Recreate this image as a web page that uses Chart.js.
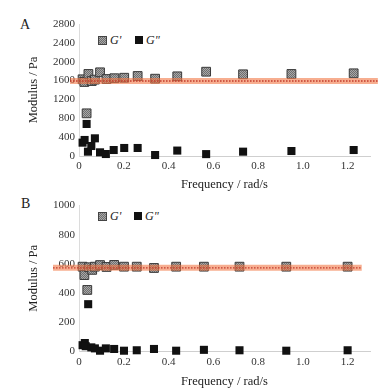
<!DOCTYPE html>
<html>
<head>
<meta charset="utf-8">
<script src="https://cdn.jsdelivr.net/npm/chart.js@4.4.0/dist/chart.umd.min.js"></script>
<style>
body{margin:0;background:#fff;font-family:"Liberation Serif",serif;color:#222;}
#wrap{position:relative;width:385px;height:392px;overflow:hidden;}
.box{position:absolute;left:0;width:385px;}
.panel{position:absolute;font-size:14px;}
.leg{position:absolute;font-size:12px;font-style:italic;display:flex;align-items:center;height:12px;color:#222;}
.sq{display:inline-block;width:7px;height:7px;margin-right:3px;}
.sq1{border:1px solid #444;background:repeating-conic-gradient(#6e6e6e 0 25%,#a8a8a8 0 50%) 0 0/2px 2px;}
.sq2{width:8px;height:8px;background:#111;}
</style>
</head>
<body>
<div id="wrap">
  <div class="panel" style="left:20px;top:17px;">A</div>
  <div class="leg" style="left:98px;top:34px;"><span class="sq sq1"></span>G'</div>
  <div class="leg" style="left:135px;top:34px;"><span class="sq sq2"></span>G"</div>
  <div class="box" style="top:0;height:195px;"><canvas id="chartA" width="385" height="195"></canvas></div>

  <div class="panel" style="left:21px;top:196px;">B</div>
  <div class="leg" style="left:98px;top:210px;"><span class="sq sq1"></span>G'</div>
  <div class="leg" style="left:134px;top:210px;"><span class="sq sq2"></span>G"</div>
  <div class="box" style="top:195px;height:197px;"><canvas id="chartB" width="385" height="197"></canvas></div>
</div>
<script>
// panel A (frequency in rad/s, modulus in Pa)
const freqA = [0.016, 0.024, 0.034, 0.042, 0.057, 0.071, 0.094, 0.123, 0.158, 0.202, 0.262, 0.34, 0.439, 0.568, 0.733, 0.949, 1.227];
const gPrimeA = [1627, 1570, 905, 1740, 1590, 1620, 1775, 1633, 1650, 1660, 1697, 1640, 1690, 1788, 1733, 1740, 1754];
const freqA2 = [0.016, 0.025, 0.034, 0.04, 0.055, 0.071, 0.094, 0.12, 0.155, 0.202, 0.262, 0.34, 0.439, 0.568, 0.733, 0.949, 1.227];
const gDoubleA = [283, 340, 680, 92, 212, 375, 78, 42, 127, 170, 170, 21, 115, 40, 92, 106, 127];
const plateauA = 1590;

// panel B
const freqB = [0.016, 0.024, 0.037, 0.045, 0.059, 0.071, 0.094, 0.123, 0.157, 0.201, 0.258, 0.335, 0.434, 0.558, 0.717, 0.926, 1.2];
const gPrimeB = [580, 522, 420, 576, 558, 580, 591, 578, 592, 580, 580, 571, 580, 580, 580, 580, 580];
const freqB2 = [0.016, 0.026, 0.03, 0.041, 0.055, 0.071, 0.094, 0.12, 0.157, 0.201, 0.258, 0.335, 0.434, 0.558, 0.717, 0.926, 1.2];
const gDoubleB = [40, 55, 33, 322, 25, 18, 2, 18, 14, 2, 5, 14, 2, 8, 5, 2, 5];
const plateauB = 572;

const xTicks = [0, 0.2, 0.4, 0.6, 0.8, 1.0, 1.2];

function makePattern() {
  const c = document.createElement("canvas");
  c.width = 2; c.height = 2;
  const x = c.getContext("2d");
  x.fillStyle = "#a8a8a8"; x.fillRect(0, 0, 2, 2);
  x.fillStyle = "#6e6e6e"; x.fillRect(0, 0, 1, 1); x.fillRect(1, 1, 1, 1);
  return x.createPattern(c, "repeat");
}

function pts(xs, ys) {
  return xs.map((v, i) => ({ x: v, y: ys[i] }));
}

function makeChart(id, o) {
  const font = { family: "Liberation Serif", size: 11 };
  return new Chart(document.getElementById(id), {
    type: "scatter",
    data: {
      datasets: [
        {
          type: "line", data: [{ x: o.lineFrom, y: o.plateau }, { x: o.lineTo, y: o.plateau }],
          borderColor: "rgba(242,120,70,0.6)", borderWidth: 6, pointRadius: 0, clip: false, order: 1
        },
        {
          type: "line", data: [{ x: o.lineFrom, y: o.plateau }, { x: o.lineTo, y: o.plateau }],
          borderColor: "#c0392b", borderWidth: 1.4, borderDash: [1.5, 1.5], pointRadius: 0, clip: false, order: 0
        },
        {
          label: "G'", data: pts(o.f1, o.g1), pointStyle: "rect", pointRadius: 6.2,
          backgroundColor: makePattern(), borderColor: "#3a3a3a", borderWidth: 1, clip: false, order: 3
        },
        {
          label: 'G"', data: pts(o.f2, o.g2), pointStyle: "rect", pointRadius: 5.7,
          backgroundColor: "#111", borderColor: "#111", borderWidth: 0, clip: false, order: 2
        }
      ]
    },
    options: {
      responsive: false,
      animation: false,
      events: [],
      layout: { padding: { top: o.top, right: 15, bottom: 0, left: 0 } },
      plugins: { legend: { display: false }, tooltip: { enabled: false } },
      scales: {
        x: {
          type: "linear", min: 0, max: 1.3,
          afterBuildTicks: (s) => { s.ticks = xTicks.map(v => ({ value: v })); },
          afterFit: (s) => { s.height = o.xHeight; },
          ticks: { font: font, color: "#333", padding: o.xPad, maxRotation: 0,
            callback: (v) => (v === 0 ? "0" : v.toFixed(1)) },
          grid: { display: false, drawTicks: false },
          border: { color: "#cfcfcf" },
          title: { display: true, text: "Frequency / rad/s", color: "#222",
            font: { family: "Liberation Serif", size: 12.5 }, padding: { top: 0, bottom: 3 } }
        },
        y: {
          min: 0, max: o.yMax,
          afterFit: (s) => { s.width = 79; },
          ticks: { stepSize: o.yStep, font: font, color: "#333", padding: 4,
            callback: (v) => String(v) },
          grid: { display: false, drawTicks: false },
          border: { color: "#dcdcdc" },
          title: { display: true, text: "Modulus / Pa", color: "#222",
            font: { family: "Liberation Serif", size: 12.5 }, padding: { top: 26, bottom: 0 } }
        }
      }
    }
  });
}

function drawAll() {
  makeChart("chartA", {
    f1: freqA, g1: gPrimeA, f2: freqA2, g2: gDoubleA, plateau: plateauA,
    lineFrom: -0.04, lineTo: 1.335, yMax: 2800, yStep: 400, top: 24, xHeight: 39, xPad: 4
  });
  makeChart("chartB", {
    f1: freqB, g1: gPrimeB, f2: freqB2, g2: gDoubleB, plateau: plateauB,
    lineFrom: -0.116, lineTo: 1.263, yMax: 1000, yStep: 200, top: 6, xHeight: 41, xPad: 5
  });
}

document.fonts.load('12px "Liberation Serif"').then(drawAll, drawAll);
</script>
</body>
</html>
